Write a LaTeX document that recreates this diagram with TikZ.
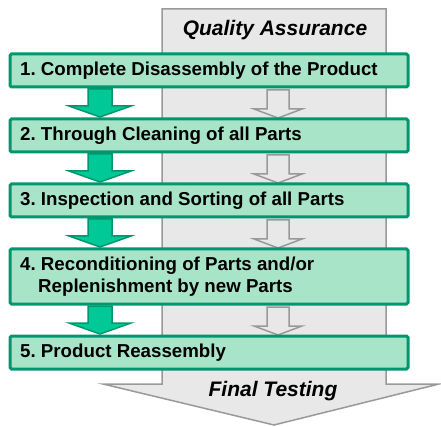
\documentclass[tikz,border=0pt]{standalone}
\usepackage{fontspec}
\setmainfont{Liberation Sans}
\frenchspacing
\definecolor{gborder}{HTML}{00966E}
\definecolor{gfill}{HTML}{A8E4C8}
\definecolor{garrow}{HTML}{00C896}
\definecolor{qfill}{HTML}{E8E8E8}
\definecolor{qborder}{HTML}{999999}
\tikzset{
  stepbox/.style={draw=gborder, fill=gfill, line width=3pt, rounded corners=1.5pt},
  steptext/.style={anchor=west, font=\bfseries\fontsize{18.7}{22}\selectfont, inner sep=0pt, align=left},
  qalabel/.style={font=\bfseries\itshape\fontsize{21}{24}\selectfont, inner sep=0pt},
  garrowst/.style={draw=gborder, fill=garrow, line width=1.5pt, line join=miter},
  qarrowst/.style={draw=qborder, fill=qfill, line width=1.5pt, line join=miter},
}
\newcommand{\greenarrow}[2]{% #1 top y, #2 tip y
  \draw[garrowst] (88,#1) -- (112,#1) -- (112,#2-11) -- (131,#2-11) -- (100,#2) -- (69,#2-11) -- (88,#2-11) -- cycle;}
\newcommand{\grayarrow}[2]{%
  \draw[qarrowst] (267,#1) -- (289,#1) -- (289,#2-9) -- (302,#2-9) -- (278,#2) -- (254,#2-9) -- (267,#2-9) -- cycle;}
\begin{document}
\begin{tikzpicture}[x=1pt,y=-1pt]
\useasboundingbox (0,0) rectangle (441,427);
% big gray arrow
\draw[draw=qborder, fill=qfill, line width=1.5pt] (162,9) -- (386,9) -- (386,384) -- (439,384) -- (274,425) -- (103,384) -- (162,384) -- cycle;
\node[qalabel] (qa) at (275,30) {Quality Assurance};
\node[qalabel] (ft) at (273,391) {Final Testing};
% arrows
\greenarrow{89}{117}
\greenarrow{154}{182}
\greenarrow{219}{247}
\greenarrow{306}{334}
\grayarrow{90}{118}
\grayarrow{155}{183}
\grayarrow{220}{248}
\grayarrow{307}{335}
% boxes
\draw[stepbox] (10,54) rectangle (408,87);
\node[steptext] (s1) at (20,70.5) {1. Complete Disassembly of the Product};
\draw[stepbox] (10,119) rectangle (408,152);
\node[steptext] (s2) at (20,135.5) {2. Through Cleaning of all Parts};
\draw[stepbox] (10,184) rectangle (408,217);
\node[steptext] (s3) at (20,200.5) {3. Inspection and Sorting of all Parts};
\draw[stepbox] (10,249) rectangle (408,304);
\node[steptext] (s4) at (20,276.5) {4. Reconditioning of Parts and/or\\\hspace*{18pt}Replenishment by new Parts};
\draw[stepbox] (10,336) rectangle (408,369);
\node[steptext] (s5) at (20,352.5) {5. Product Reassembly};
\end{tikzpicture}
\end{document}
